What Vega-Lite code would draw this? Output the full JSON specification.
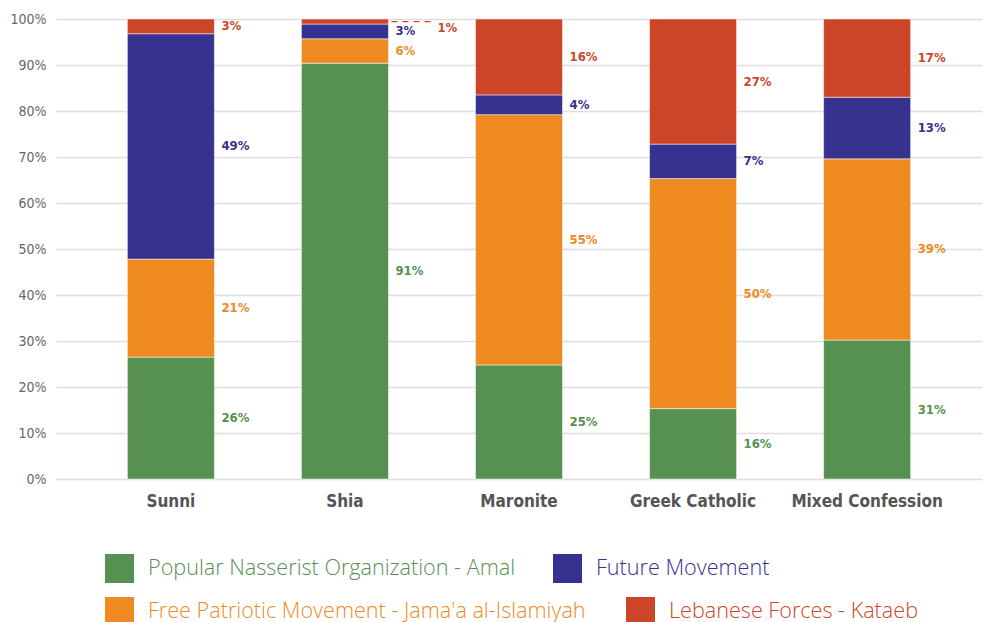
{
  "$schema": "https://vega.github.io/schema/vega-lite/v6.json",
  "width": 926,
  "height": 460,
  "autosize": "none",
  "padding": {"left": 56, "top": 19, "right": 7, "bottom": 143},
  "background": "white",
  "config": {"view": {"stroke": null}},
  "data": {
    "values": [
      {"religion": "Sunni", "party": "Popular Nasserist Organization - Amal", "value": 26.5, "label": "26%"},
      {"religion": "Sunni", "party": "Free Patriotic Movement - Jama'a al-Islamiyah", "value": 21.3, "label": "21%"},
      {"religion": "Sunni", "party": "Future Movement", "value": 49.0, "label": "49%"},
      {"religion": "Sunni", "party": "Lebanese Forces - Kataeb", "value": 3.2, "label": "3%"},
      {"religion": "Shia", "party": "Popular Nasserist Organization - Amal", "value": 90.4, "label": "91%"},
      {"religion": "Shia", "party": "Free Patriotic Movement - Jama'a al-Islamiyah", "value": 5.3, "label": "6%"},
      {"religion": "Shia", "party": "Future Movement", "value": 3.2, "label": "3%"},
      {"religion": "Shia", "party": "Lebanese Forces - Kataeb", "value": 1.1, "label": "1%"},
      {"religion": "Maronite", "party": "Popular Nasserist Organization - Amal", "value": 24.8, "label": "25%"},
      {"religion": "Maronite", "party": "Free Patriotic Movement - Jama'a al-Islamiyah", "value": 54.4, "label": "55%"},
      {"religion": "Maronite", "party": "Future Movement", "value": 4.3, "label": "4%"},
      {"religion": "Maronite", "party": "Lebanese Forces - Kataeb", "value": 16.5, "label": "16%"},
      {"religion": "Greek Catholic", "party": "Popular Nasserist Organization - Amal", "value": 15.3, "label": "16%"},
      {"religion": "Greek Catholic", "party": "Free Patriotic Movement - Jama'a al-Islamiyah", "value": 50.0, "label": "50%"},
      {"religion": "Greek Catholic", "party": "Future Movement", "value": 7.5, "label": "7%"},
      {"religion": "Greek Catholic", "party": "Lebanese Forces - Kataeb", "value": 27.2, "label": "27%"},
      {"religion": "Mixed Confession", "party": "Popular Nasserist Organization - Amal", "value": 30.2, "label": "31%"},
      {"religion": "Mixed Confession", "party": "Free Patriotic Movement - Jama'a al-Islamiyah", "value": 39.4, "label": "39%"},
      {"religion": "Mixed Confession", "party": "Future Movement", "value": 13.4, "label": "13%"},
      {"religion": "Mixed Confession", "party": "Lebanese Forces - Kataeb", "value": 17.0, "label": "17%"}
    ]
  },
  "transform": [
    {"calculate": "indexof(['Popular Nasserist Organization - Amal', 'Free Patriotic Movement - Jama\\'a al-Islamiyah', 'Future Movement', 'Lebanese Forces - Kataeb'], datum.party)", "as": "rank"},
    {"stack": "value", "groupby": ["religion"], "sort": [{"field": "rank", "order": "ascending"}], "offset": "normalize", "as": ["v0", "v1"]},
    {"calculate": "(datum.v0 + datum.v1) / 2", "as": "mid"}
  ],
  "encoding": {
    "x": {
      "field": "religion",
      "type": "nominal",
      "sort": ["Sunni", "Shia", "Maronite", "Greek Catholic", "Mixed Confession"],
      "scale": {"paddingInner": 0.5, "paddingOuter": 0.41},
      "axis": {
        "title": null,
        "labelAngle": 0,
        "domain": false,
        "ticks": false,
        "labelFont": "DejaVu Sans Condensed",
        "labelFontWeight": "bold",
        "labelFontSize": 17,
        "labelColor": "#555555",
        "labelPadding": 14
      }
    }
  },
  "layer": [
    {
      "mark": {"type": "bar", "stroke": "white", "strokeWidth": 0.5},
      "encoding": {
        "y": {
          "field": "v0",
          "type": "quantitative",
          "scale": {"domain": [0, 1]},
          "axis": {
            "title": null,
            "format": "%",
            "values": [0, 0.1, 0.2, 0.3, 0.4, 0.5, 0.6, 0.7, 0.8, 0.9, 1],
            "domain": false,
            "ticks": false,
            "gridColor": "#dddddd",
            "gridWidth": 1.5,
            "labelFont": "DejaVu Sans Condensed",
            "labelFontSize": 14,
            "labelColor": "#666666",
            "labelPadding": 10
          }
        },
        "y2": {"field": "v1"},
        "color": {
          "field": "party",
          "type": "nominal",
          "scale": {
            "domain": ["Popular Nasserist Organization - Amal", "Future Movement", "Free Patriotic Movement - Jama'a al-Islamiyah", "Lebanese Forces - Kataeb"],
            "range": ["#579151", "#373190", "#ee8a1f", "#cd4528"]
          },
          "legend": {
            "title": null,
            "orient": "none",
            "legendX": 49,
            "legendY": 535,
            "direction": "horizontal",
            "values": ["Popular Nasserist Organization - Amal", "Future Movement"],
            "columnPadding": 37,
            "symbolType": "square",
            "symbolSize": 841,
            "symbolStrokeWidth": 0,
            "symbolOpacity": 1,
            "labelFont": "Open Sans",
            "labelFontSize": 21.6,
            "labelFontWeight": 300,
            "labelOffset": 14,
            "labelLimit": 700,
            "labelColor": {"expr": "scale('color', datum.value)"}
          }
        }
      }
    },
    {
      "transform": [{"filter": "!(datum.religion == 'Shia' && datum.rank == 3)"}],
      "mark": {"type": "text", "align": "left", "baseline": "middle", "dx": 7, "font": "DejaVu Sans Condensed", "fontWeight": "bold", "fontSize": 13},
      "encoding": {
        "x": {"field": "religion", "type": "nominal", "sort": ["Sunni", "Shia", "Maronite", "Greek Catholic", "Mixed Confession"], "bandPosition": 1},
        "y": {"field": "mid", "type": "quantitative"},
        "text": {"field": "label"},
        "fill": {
          "field": "party",
          "type": "nominal",
          "scale": {
            "domain": ["Free Patriotic Movement - Jama'a al-Islamiyah", "Lebanese Forces - Kataeb", "Popular Nasserist Organization - Amal", "Future Movement"],
            "range": ["#ee8a1f", "#cd4528", "#579151", "#373190"]
          },
          "legend": {
            "title": null,
            "orient": "none",
            "legendX": 49,
            "legendY": 578,
            "direction": "horizontal",
            "values": ["Free Patriotic Movement - Jama'a al-Islamiyah", "Lebanese Forces - Kataeb"],
            "columnPadding": 40,
            "symbolType": "square",
            "symbolSize": 841,
            "symbolStrokeWidth": 0,
            "symbolOpacity": 1,
            "labelFont": "Open Sans",
            "labelFontSize": 21.6,
            "labelFontWeight": 300,
            "labelOffset": 14,
            "labelLimit": 700,
            "labelColor": {"expr": "scale('fill', datum.value)"}
          }
        }
      }
    },
    {
      "transform": [{"filter": "datum.religion == 'Shia' && datum.rank == 3"}],
      "mark": {"type": "text", "align": "left", "baseline": "middle", "dx": 49, "dy": 6, "font": "DejaVu Sans Condensed", "fontWeight": "bold", "fontSize": 13},
      "encoding": {
        "x": {"field": "religion", "type": "nominal", "sort": ["Sunni", "Shia", "Maronite", "Greek Catholic", "Mixed Confession"], "bandPosition": 1},
        "y": {"field": "mid", "type": "quantitative"},
        "text": {"field": "label"},
        "fill": {"field": "party", "type": "nominal"}
      }
    },
    {
      "transform": [{"filter": "datum.religion == 'Shia' && datum.rank == 3"}],
      "mark": {"type": "rule", "strokeDash": [6, 5], "strokeWidth": 1.2, "xOffset": 3, "x2Offset": 47},
      "encoding": {
        "x": {"field": "religion", "type": "nominal", "sort": ["Sunni", "Shia", "Maronite", "Greek Catholic", "Mixed Confession"], "bandPosition": 1},
        "x2": {"field": "religion", "bandPosition": 1},
        "y": {"field": "mid", "type": "quantitative"},
        "color": {"field": "party", "type": "nominal"}
      }
    }
  ]
}
